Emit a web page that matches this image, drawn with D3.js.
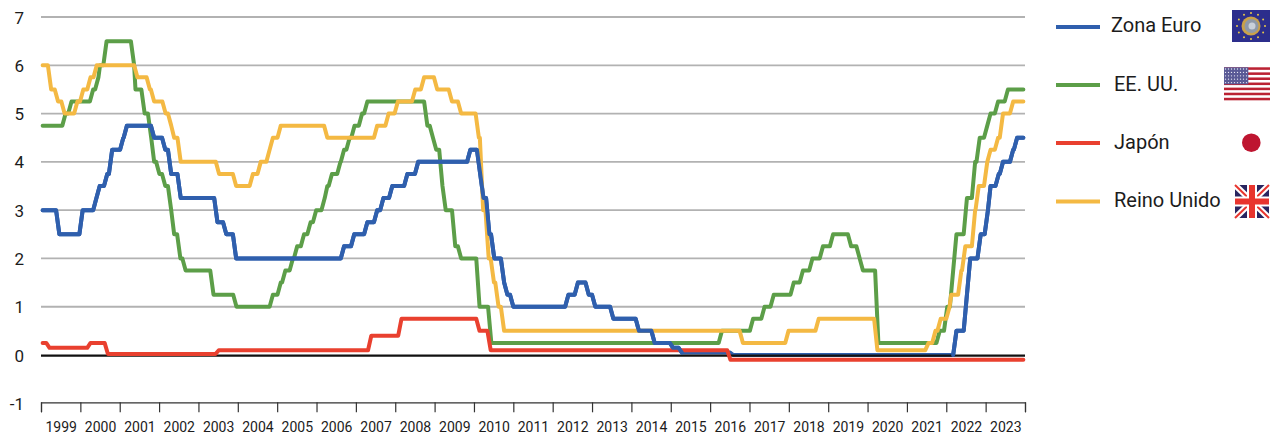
<!DOCTYPE html>
<html><head><meta charset="utf-8">
<script src="https://cdn.jsdelivr.net/npm/d3@7"></script>
<style>html,body{margin:0;padding:0;background:#fff}svg{display:block}text{font-family:Roboto,sans-serif;fill:#1c1c1c}</style>
</head><body><div id="chart"></div>
<script>
const yearLabels=[1999,2000,2001,2002,2003,2004,2005,2006,2007,2008,2009,2010,2011,2012,2013,2014,2015,2016,2017,2018,2019,2020,2021,2022,2023];
const yTicks=[-1,0,1,2,3,4,5,6,7];
const seriesNames=["Zona Euro","EE. UU.","Japón","Reino Unido"];
const totalMonths=300;
// Change points: month on the chart's axis (0 = start of first tick), new rate
const euroMonths=[0,5.2,12.3,16.5,17.5,19.8,21.3,24.7,25.8,34.1,37.5,39.3,42.2,53.4,56.1,59.1,92,95.1,99.1,102.1,104,106.7,111.3,114.6,130.5,133.5,134.5,136.3,137.8,140.8,141.8,143.6,160.4,163.3,166.6,168.6,174.1,181.9,186.7,192.3,195,210.7,278.7,281.9,282.9,286.1,288.3,289.1,291.6,292.9,296,297.2];
const euroRates=[3,2.5,3,3.25,3.5,3.75,4.25,4.5,4.75,4.5,4.25,3.75,3.25,2.75,2.5,2,2.25,2.5,2.75,3,3.25,3.5,3.75,4,4.25,3.75,3.25,2.5,2,1.5,1.25,1,1.25,1.5,1.25,1,0.75,0.5,0.25,0.15,0.05,0,0.5,1.25,2,2.5,3,3.5,3.75,4,4.25,4.5];
const usaMonths=[0,7.1,8.9,15.5,17.1,17.6,19.6,28,28.4,31.2,33.2,34.1,35.7,37.5,39.3,40.2,42.1,43.7,52.2,59.2,70.3,72.7,74.1,76.4,77.7,79.8,81.8,83.5,86.1,86.9,88.3,90.9,92,93.7,95.2,97.5,99.1,117.4,119.1,120.1,122,123,125.9,127.7,133.3,136.9,207.2,216.7,220.2,223,229.1,231.9,234.8,238,241.1,246.6,249.2,250.2,254.9,273.6,275.9,277.7,278.7,281.9,284.4,285.8,288.1,289.1,291.4,294.4];
const usaRates=[4.75,5,5.25,5.5,5.75,6,6.5,6,5.5,5,4.5,4,3.75,3.5,3,2.5,2,1.75,1.25,1,1.25,1.5,1.75,2,2.25,2.5,2.75,3,3.25,3.5,3.75,4,4.25,4.5,4.75,5,5.25,4.75,4.5,4.25,3.5,3,2.25,2,1,0.25,0.5,0.75,1,1.25,1.5,1.75,2,2.25,2.5,2.25,2,1.75,0.25,0.5,1,1.75,2.5,3.25,4,4.5,4.75,5,5.25,5.5];
const japanMonths=[0,2.2,14.7,20,53.8,100.3,109.5,133.3,136.7,209.8];
const japanRates=[0.25,0.15,0.25,0.02,0.1,0.4,0.75,0.5,0.1,-0.1];
const ukMonths=[0,2.7,4.8,6.8,10.7,12.5,14.7,16.6,29,32.8,34.1,37.6,39.3,40.2,42.2,53.9,59.1,64.2,66.6,69.3,70.3,72.7,86.9,102.1,105.6,108.4,113.7,116.4,120.4,124.9,127.7,133.1,134.4,136.1,137.7,139.1,140.8,213.6,227.5,236.7,254.6,270.2,272.3,273.9,276.6,277.1,280.2,281.4,284.4,285.5,288.1,289.1,291.4,292.9,296];
const ukRates=[6,5.5,5.25,5,5.25,5.5,5.75,6,5.75,5.5,5.25,5,4.75,4.5,4,3.75,3.5,3.75,4,4.25,4.5,4.75,4.5,4.75,5,5.25,5.5,5.75,5.5,5.25,5,4.5,3,2,1.5,1,0.5,0.25,0.5,0.75,0.1,0.25,0.5,0.75,1,1.25,1.75,2.25,3,3.5,4,4.25,4.5,5,5.25];
const colors={euro:"#2f5fad",usa:"#5c9e48",japan:"#e9402f",uk:"#f4b943"};

const W=1275,H=435;
const svg=d3.select("#chart").append("svg").attr("width",W).attr("height",H);
const x=d3.scaleLinear().domain([0,totalMonths]).range([41,1025]);
const y=d3.scaleLinear().domain([-1,7]).range([403.3,17]);

// gridlines
svg.append("g").selectAll("line").data(yTicks.filter(d=>d>0)).join("line")
  .attr("x1",x(0)).attr("x2",x(totalMonths)).attr("y1",d=>y(d)).attr("y2",d=>y(d))
  .attr("stroke","#b2b2b2").attr("stroke-width",1.8);

// y axis
const ya=svg.append("g").attr("transform","translate(24,0)")
  .call(d3.axisLeft(y).tickValues(yTicks).tickSize(0).tickPadding(0).tickFormat(d=>String(d)));
ya.select(".domain").remove();
ya.selectAll("text").style("font-size","17px").attr("dy","0.36em");

// x axis
const xa=svg.append("g").attr("transform",`translate(0,${y(-1)-1})`)
  .call(d3.axisBottom(x).tickValues(d3.range(0,totalMonths+1,12)).tickSize(10).tickFormat(""));
xa.select(".domain").attr("stroke","#333").attr("stroke-width",1.2);
xa.selectAll(".tick line").attr("stroke","#333").attr("stroke-width",1.2);
svg.append("g").selectAll("text").data(yearLabels).join("text")
  .attr("x",(d,i)=>x(i*12+6)+0.5).attr("y",432).attr("text-anchor","middle")
  .style("font-size","14px").text(d=>d);

// step series: each change ramps over about one month
function steps(months,rates){
  const pts=[[months[0]+0.5,rates[0]]];
  for(let i=1;i<months.length;i++){
    pts.push([Math.max(months[i]-0.6,months[i-1]+0.4),rates[i-1]]);
    pts.push([months[i]+0.4,rates[i]]);
  }
  pts.push([totalMonths-0.5,rates[rates.length-1]]);
  return pts;
}
const line=d3.line().x(d=>x(d[0])).y(d=>y(d[1]));
const drawPath=(pts,c)=>svg.append("path").attr("d",line(pts)).attr("fill","none")
  .attr("stroke",c).attr("stroke-width",4).attr("stroke-linejoin","round").attr("stroke-linecap","round");

drawPath(steps(usaMonths,usaRates),colors.usa);
drawPath(steps(euroMonths,euroRates),colors.euro);
// zero line
svg.append("line").attr("x1",x(0)).attr("x2",x(totalMonths)).attr("y1",y(0)+0.6).attr("y2",y(0)+0.6)
  .attr("stroke","#111").attr("stroke-width",2.4);
drawPath(steps(japanMonths,japanRates),colors.japan);
drawPath(steps(ukMonths,ukRates),colors.uk);
// the euro stretch above zero sits on top of the other lines
drawPath(steps(euroMonths,euroRates).filter(d=>d[0]<210),colors.euro);
// ...and its final rise too
drawPath(steps(euroMonths,euroRates).filter(d=>d[0]>278),colors.euro);

// legend
const legend=[
 {n:seriesNames[0],c:colors.euro,ly:27,tx:1111,ty:32},
 {n:seriesNames[1],c:colors.usa,ly:85,tx:1114,ty:91},
 {n:seriesNames[2],c:colors.japan,ly:143,tx:1114,ty:149},
 {n:seriesNames[3],c:colors.uk,ly:201.5,tx:1114,ty:207}];
const lg=svg.append("g");
lg.selectAll("line").data(legend).join("line").attr("x1",1056).attr("x2",1100).attr("y1",d=>d.ly).attr("y2",d=>d.ly)
  .attr("stroke",d=>d.c).attr("stroke-width",4);
lg.selectAll("text").data(legend).join("text").attr("x",d=>d.tx).attr("y",d=>d.ty).style("font-size","20px").text(d=>d.n);

// flags
const eu=svg.append("g");
eu.append("rect").attr("x",1232).attr("y",10).attr("width",38).attr("height",32).attr("fill","#2c2e8c");
d3.range(12).forEach(i=>{const a=i*Math.PI/6;
  eu.append("circle").attr("cx",1251+14*Math.cos(a)).attr("cy",26+13*Math.sin(a)).attr("r",1).attr("fill","#e8c84a");});
eu.append("circle").attr("cx",1251).attr("cy",26).attr("r",9.5).attr("fill","#c9a14a");
eu.append("circle").attr("cx",1251.5).attr("cy",26).attr("r",7).attr("fill","#8f99a8");
eu.append("circle").attr("cx",1252).attr("cy",26).attr("r",3.5).attr("fill","#c9d0d9");

const us=svg.append("g");
us.append("rect").attr("x",1224).attr("y",67.3).attr("width",46).attr("height",33).attr("fill","#fff");
d3.range(7).forEach(i=>us.append("rect").attr("x",1224).attr("y",67.3+i*5.08).attr("width",46).attr("height",2.54).attr("fill","#bb2233"));
us.append("rect").attr("x",1224).attr("y",67.3).attr("width",24.3).attr("height",17).attr("fill","#5a5a96");
d3.range(5).forEach(r=>d3.range(8).forEach(c=>us.append("circle").attr("cx",1225.5+c*3).attr("cy",69+r*3.4).attr("r",0.65).attr("fill","#e6e6f2")));

svg.append("circle").attr("cx",1251.3).attr("cy",142.7).attr("r",9.3).attr("fill","#be1530");

const uk=svg.append("g");
const ux=1235,uy=185,uw=34,uh=33;
uk.append("rect").attr("x",ux).attr("y",uy).attr("width",uw).attr("height",uh).attr("fill","#2a2560");
[[ux,uy,ux+uw,uy+uh],[ux+uw,uy,ux,uy+uh]].forEach(p=>{
  uk.append("line").attr("x1",p[0]).attr("y1",p[1]).attr("x2",p[2]).attr("y2",p[3]).attr("stroke","#fff").attr("stroke-width",6);
  uk.append("line").attr("x1",p[0]).attr("y1",p[1]).attr("x2",p[2]).attr("y2",p[3]).attr("stroke","#e8352e").attr("stroke-width",2);
});
uk.append("rect").attr("x",ux+uw/2-5).attr("y",uy).attr("width",10).attr("height",uh).attr("fill","#fff");
uk.append("rect").attr("x",ux).attr("y",uy+uh/2-5).attr("width",uw).attr("height",10).attr("fill","#fff");
uk.append("rect").attr("x",ux+uw/2-3).attr("y",uy).attr("width",6).attr("height",uh).attr("fill","#e8352e");
uk.append("rect").attr("x",ux).attr("y",uy+uh/2-3).attr("width",uw).attr("height",6).attr("fill","#e8352e");
</script></body></html>
